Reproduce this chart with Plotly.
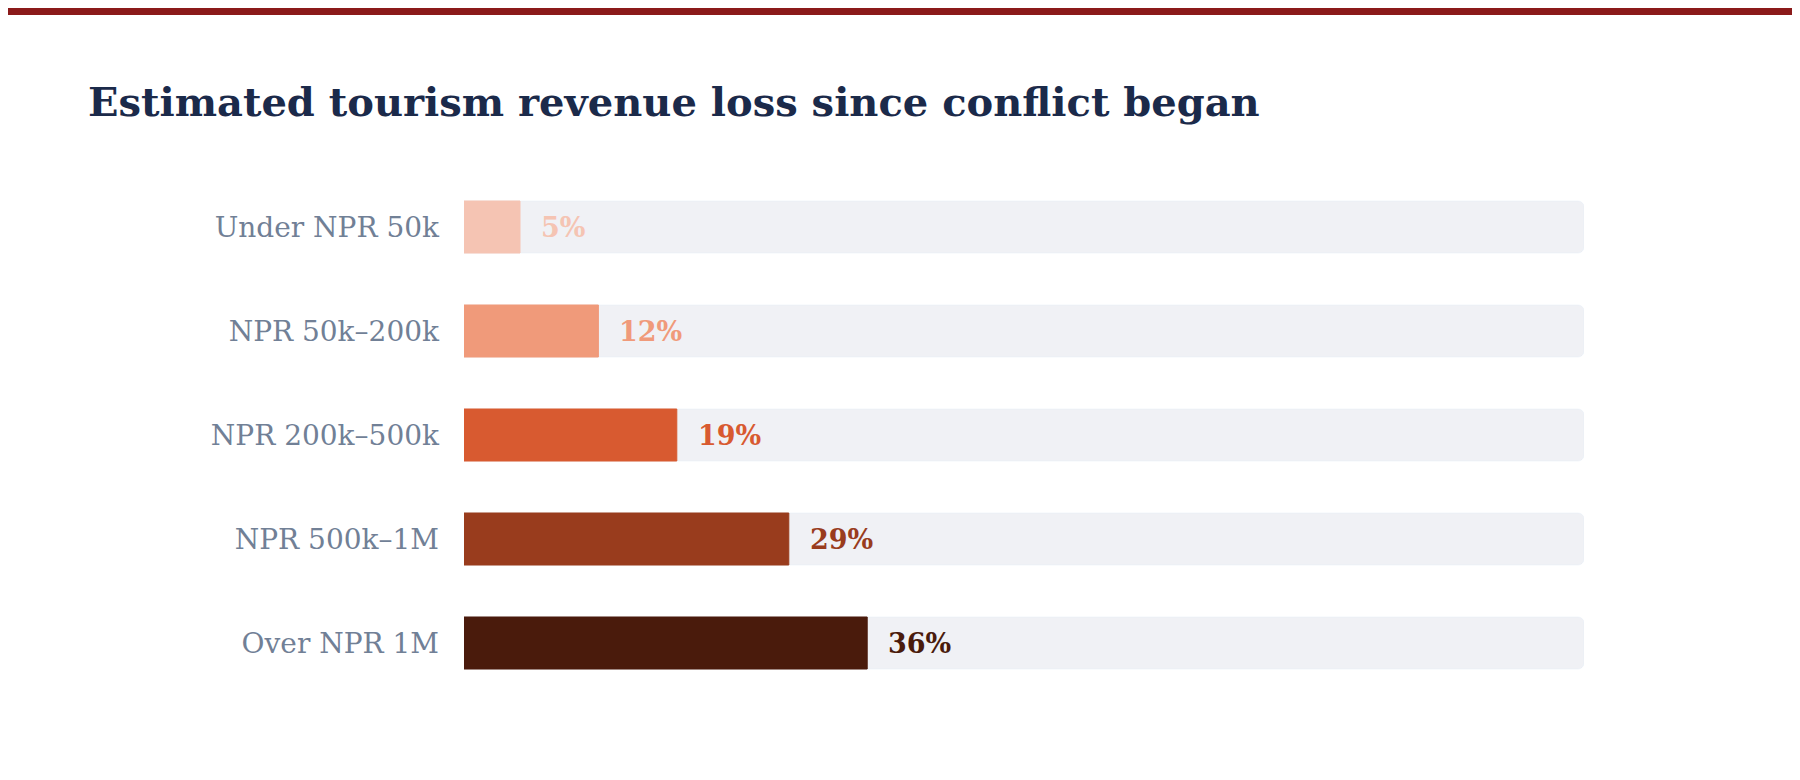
import plotly.graph_objects as go

categories = ["Under NPR 50k", "NPR 50k–200k", "NPR 200k–500k", "NPR 500k–1M", "Over NPR 1M"]
values = [5, 12, 19, 29, 36]
colors = ["#F5C4B3", "#F09A7A", "#D85A30", "#993C1D", "#4A1B0C"]
track = [100] * len(categories)

fig = go.Figure()
fig.add_trace(go.Bar(y=categories, x=track, orientation="h", marker=dict(color="#F0F1F5"),
                     width=0.5, hoverinfo="skip", showlegend=False))
fig.add_trace(go.Bar(y=categories, x=values, orientation="h",
                     marker=dict(color=colors, line=dict(color=colors, width=1)),
                     width=0.5, showlegend=False))

for c, v, col in zip(categories, values, colors):
    fig.add_annotation(x=v, y=c, text=f"<b>{v}%</b>", showarrow=False, xanchor="left", xshift=19,
                       font=dict(family="DejaVu Serif", size=27, color=col))

fig.add_shape(type="rect", xref="paper", yref="paper", x0=-1, x1=2, y0=1 + 160 / 520, y1=1.5,
              fillcolor="#8B1A1A", line_width=0, layer="above")

fig.update_layout(
    width=1800, height=780, barmode="overlay", barcornerradius=6,
    plot_bgcolor="white", paper_bgcolor="white",
    margin=dict(l=456, r=224, t=167, b=93),
    title=dict(text="<b>Estimated tourism revenue loss since conflict began</b>", x=80 / 1800, xanchor="left",
               y=1 - 94 / 780, yanchor="middle", font=dict(family="DejaVu Serif", size=40, color="#1B2A4A")),
    xaxis=dict(range=[0, 100], visible=False, fixedrange=True),
    yaxis=dict(autorange="reversed", showgrid=False, zeroline=False, ticks="", ticklabelstandoff=24,
               tickfont=dict(family="DejaVu Serif", size=28, color="#718096")),
)

fig.write_html("out.html")
